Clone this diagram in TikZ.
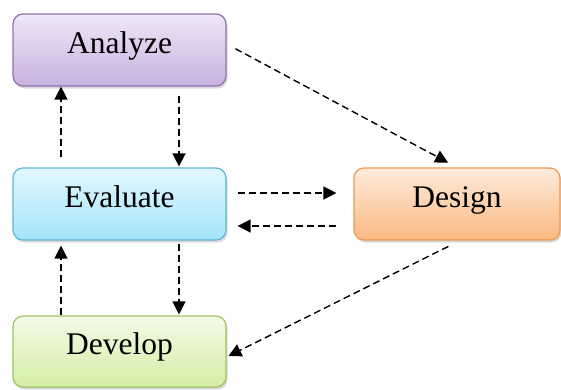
\documentclass[tikz,border=0pt]{standalone}
\usepackage{fontspec}
\setmainfont{Liberation Serif}
\usetikzlibrary{arrows.meta,shadows}
\definecolor{anaTop}{HTML}{EFE7F7}
\definecolor{anaBot}{HTML}{C7B1DF}
\definecolor{anaLine}{HTML}{9071B0}
\definecolor{evaTop}{HTML}{E2F8FF}
\definecolor{evaBot}{HTML}{A3E4F9}
\definecolor{evaLine}{HTML}{5DB7D3}
\definecolor{desTop}{HTML}{FEEBDD}
\definecolor{desBot}{HTML}{FAB980}
\definecolor{desLine}{HTML}{EE9A52}
\definecolor{devTop}{HTML}{F4FBE8}
\definecolor{devBot}{HTML}{D2EEA4}
\definecolor{devLine}{HTML}{A2C163}
\tikzset{
  stage/.style={rounded corners=10pt, line width=1.2pt, minimum height=72pt,
    inner sep=0pt, text height=20pt, text depth=14pt,
    font=\fontsize{31.5}{36}\selectfont,
    drop shadow={shadow xshift=1.5pt, shadow yshift=-2.5pt, opacity=0.3}},
  flow/.style={line width=1.4pt, dash pattern=on 7pt off 4pt,
    -{Triangle[length=13pt,width=13pt]}}
}
\begin{document}
\begin{tikzpicture}[x=1pt,y=-1pt]
\useasboundingbox (0,0) rectangle (561,389);
% the four stages
\node[stage, minimum width=213pt, draw=anaLine, top color=anaTop, bottom color=anaBot]
  (ana) at (119.5,50) {Analyze};
\node[stage, minimum width=213pt, draw=evaLine, top color=evaTop, bottom color=evaBot]
  (eva) at (119.5,204) {Evaluate};
\node[stage, minimum width=213pt, minimum height=71pt, draw=devLine, top color=devTop, bottom color=devBot]
  (dev) at (119.5,351.5) {Develop};
\node[stage, minimum width=206pt, draw=desLine, top color=desTop, bottom color=desBot]
  (des) at (457,204) {Design};
% vertical links on the left column
\draw[flow, shorten <=10pt, shorten >=0pt] ([xshift=-58.5pt]eva.north) -- ([xshift=-58.5pt]ana.south);
\draw[flow, shorten <=9pt, shorten >=1pt] ([xshift=59.5pt]ana.south) -- ([xshift=59.5pt]eva.north);
\draw[flow, shorten <=3pt, shorten >=1pt] ([xshift=59.5pt]eva.south) -- ([xshift=59.5pt]dev.north);
\draw[flow, shorten <=0pt, shorten >=5pt] ([xshift=-58.5pt]dev.north) -- ([xshift=-58.5pt]eva.south);
% links between Evaluate and Design
\draw[flow, shorten <=11pt, shorten >=17pt] ([yshift=11pt]eva.east) -- ([yshift=11pt]des.west);
\draw[flow, shorten <=17pt, shorten >=11pt] ([yshift=-22pt]des.west) -- ([yshift=-22pt]eva.east);
% diagonal links
\draw[flow, shorten <=10pt, shorten >=10pt] ([yshift=6pt]ana.east) -- (des.north);
\draw[flow, shorten <=13pt, shorten >=2pt] ([xshift=3pt]des.south) -- ([yshift=-5.5pt]dev.east);
\end{tikzpicture}
\end{document}
